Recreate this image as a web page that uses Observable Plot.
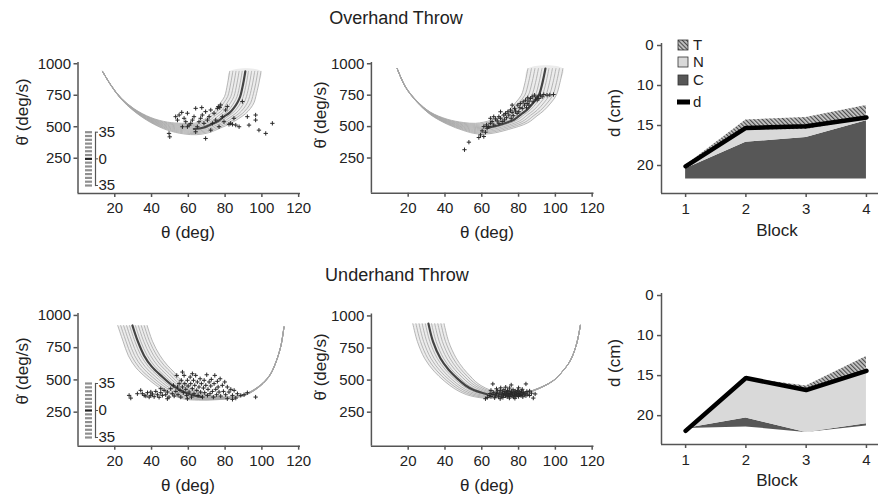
<!DOCTYPE html>
<html><head><meta charset="utf-8">
<script src="https://cdn.jsdelivr.net/npm/d3@7"></script>
<script src="https://cdn.jsdelivr.net/npm/@observablehq/plot@0.6"></script>
<style>
body{margin:0;background:#fff;font-family:"Liberation Sans",Arial,sans-serif;}
#root{position:relative;width:878px;height:495px;overflow:hidden;background:#fff;}
.t{position:absolute;color:#222;white-space:nowrap;line-height:1;transform:translate(-50%,-50%);}
.r{transform:translate(-50%,-50%) rotate(-90deg);}
</style></head><body>
<svg width="0" height="0" style="position:absolute"><defs>
<pattern id="hatch" patternUnits="userSpaceOnUse" width="3" height="3" patternTransform="rotate(-45)">
<rect width="3" height="3" fill="#c8c8c8"/><line x1="0.6" y1="0" x2="0.6" y2="3" stroke="#444" stroke-width="1.1"/></pattern>
</defs></svg>
<div id="root"></div>
<script>
// ---------- data ----------
const fanOffsets = [-1,-0.8,-0.6,-0.4,-0.2,0,0.2,0.4,0.6,0.8,1];
const thetaTicks = [20,40,60,80,100,120];
const velTicks = [250,500,750,1000];
const stripeLevels = [-35,-30,-25,-20,-15,-10,-5,0,5,10,15,20,25,30,35];
const stripeTicks = [-35,0,35];

// Overhand, panel 1
const TL_theta = [13.3,17.8,23.3,30.5,39.6,48.6,57,63,68,72.5,76.5,79.4,82.5,84.8,86.8,88.2,89.8,91];
const TL_vel   = [940,832,726,633,553,505,485,482,492,520,548,580,612,650,695,740,840,940];
const TL_spreadTheta = [0,0,0,0,0,0,0.5,1.5,3,5,6.5,8,8.5,9,9,8.5,8.5,8.5];
const TL_spreadVel   = [0,-2,-5,-10,-20,-32,-42,-45,-40,-30,-22,-15,-10,-5,-2,0,0,0];
const TL_points = [[53.1,580],[54.1,553],[55.0,593],[56.4,614],[57.7,567],[58.6,540],[59.5,607],[60.4,513],[61.3,527],[62.2,553],[63.1,580],[64.0,646],[64.9,500],[65.8,540],[66.7,567],[67.3,652],[67.6,593],[68.5,527],[69.4,620],[70.4,553],[71.3,580],[72.2,633],[73.1,527],[74.0,607],[74.9,553],[75.8,646],[76.3,660],[77.1,652],[77.6,673],[78.5,580],[79.4,540],[80.3,633],[81.2,660],[82.1,519],[83.0,527],[84.0,519],[84.8,567],[85.8,513],[87.6,500],[89.4,700],[92.1,580],[93.0,513],[96.6,593],[96.6,553],[98.4,473],[102.1,447],[105.7,527],[49.5,447],[49.9,420],[69.4,407],[76.7,500],[72.2,473],[59.5,500],[64.0,460],[56.8,500]];

// Overhand, panel 2
const TM_theta = [14,18.5,24.9,32.1,41.2,50.2,57,63,70,77.5,81.5,84.7,88,91,93,94.6];
const TM_vel   = [962,816,697,605,539,500,484,490,515,555,600,635,690,750,850,962];
const TM_spreadTheta = [0,0,0,0,0,0,0.5,2,4.5,7.5,8.5,9,9.5,9.5,9.5,9.5];
const TM_spreadVel   = [0,-2,-5,-10,-20,-32,-42,-45,-38,-25,-15,-8,-3,0,0,0];
const TM_points = [[50.6,316],[53.0,376],[58.4,413],[59.3,434],[61.1,421],[60.2,466],[62.0,455],[62.9,487],[62.6,513],[63.8,500],[64.7,526],[65.6,540],[66.5,513],[67.5,561],[68.4,545],[69.3,579],[70.2,566],[71.1,540],[72.0,592],[72.9,605],[73.4,571],[74.2,618],[74.7,592],[75.6,632],[76.5,613],[77.1,587],[77.8,645],[78.3,624],[79.2,605],[79.6,671],[80.7,650],[81.0,684],[82.0,645],[82.5,697],[83.2,671],[83.8,710],[84.7,684],[85.0,729],[85.7,703],[86.5,724],[87.4,737],[87.9,697],[88.6,750],[89.2,718],[90.1,737],[91.0,724],[91.9,750],[92.8,737],[93.7,755],[95.5,750],[97,752],[99,755],[69.3,526],[72.3,553],[76.0,566],[80.1,618],[84.3,650],[64.7,566],[61.1,500],[66.5,579],[70.2,618],[85.6,671],[90.1,711],[76.5,671]];

// Underhand, panel 1
const BL_theta = [29.6,32.5,35.9,40,45,52,59.5,67,75.5,84.8,92.1,99.3,104,106.6,110.2,112];
const BL_vel   = [922,800,690,605,535,450,395,368,358,366,393,458,530,600,755,910];
const BL_spreadTheta = [-8,-8,-8.5,-8.5,-7.5,-5,-3,-1.5,-0.5,0,0,0,0,0,0,0];
const BL_spreadVel   = [0,0,-3,-10,-22,-35,-40,-25,-12,-6,-5,-4,-3,-2,-1,0];
const BL_points = [[27.8,380],[28.7,359],[34.1,419],[35.0,393],[36.0,380],[36.9,375],[37.8,401],[38.7,367],[39.6,380],[40.5,391],[41.4,370],[42.3,411],[43.2,385],[44.1,365],[45.0,401],[45.9,380],[46.8,419],[47.7,385],[48.6,406],[49.5,367],[50.4,432],[51.3,393],[51.9,458],[52.3,375],[53.2,411],[53.7,535],[54.1,445],[54.4,385],[55.0,471],[55.5,419],[55.9,367],[56.2,497],[56.8,445],[57.3,401],[57.7,535],[58.1,471],[58.6,427],[59.1,380],[59.5,497],[59.9,453],[60.4,406],[61.0,522],[61.3,471],[61.7,367],[62.2,432],[62.8,497],[63.1,393],[63.5,458],[64.0,535],[64.6,419],[64.9,484],[65.3,380],[65.8,445],[66.4,509],[66.7,406],[67.1,471],[67.7,367],[68.2,437],[68.6,497],[68.9,401],[69.5,458],[70.0,540],[70.4,380],[70.7,427],[71.3,484],[71.8,393],[72.2,453],[72.5,504],[73.1,411],[73.6,367],[74.0,471],[74.4,535],[74.9,427],[75.4,385],[75.8,489],[76.2,445],[76.7,406],[77.3,509],[77.6,375],[78.5,458],[79.1,411],[79.8,484],[80.3,385],[81.2,445],[82.1,406],[83.1,427],[84.0,380],[84.9,419],[85.8,359],[86.7,393],[88.5,380],[90.3,385],[92.1,401],[96.6,367],[84.0,349],[81.2,354],[59.5,354],[48.6,354],[39.6,406],[32.3,393],[45.0,432],[56.8,561],[62.2,548]];

// Underhand, panel 2
const BM_theta = [31,33.5,37.5,42,46.6,51,55.6,62.9,70,77,83,88.3,94,99.1,104,108.2,111.5,113.6];
const BM_vel   = [940,800,670,580,513,460,422,390,380,382,395,420,455,498,570,654,780,927];
const BM_spreadTheta = [-8.5,-8.5,-8.5,-8,-7,-5.5,-4,-2,-0.5,0,0,0,0,0,0,0,0,0];
const BM_spreadVel   = [0,0,-3,-10,-20,-30,-35,-30,-15,-8,-5,-3,-2,-1,0,0,0,0];
const BM_points = [[63,365],[64,380],[64.5,395],[65,372],[66,388],[66.5,405],[67,362],[67.5,378],[68,395],[68.5,415],[69,370],[69.3,385],[69.8,400],[70,420],[70.3,440],[70.6,375],[71,392],[71.2,408],[71.5,365],[71.8,385],[72,425],[72.3,398],[72.6,412],[72.9,378],[73.2,390],[73.5,405],[73.8,370],[74,420],[74.2,395],[74.5,382],[74.8,410],[75,438],[75.2,372],[75.5,398],[75.8,388],[76,415],[76.2,403],[76.5,378],[76.8,392],[77,425],[77.2,368],[77.5,408],[77.8,385],[78,398],[78.2,415],[78.5,375],[78.8,392],[79,405],[79.2,382],[79.5,420],[79.8,395],[80,372],[80.3,410],[80.6,388],[81,400],[81.3,380],[81.6,415],[82,392],[82.3,370],[82.6,405],[83,385],[83.5,398],[84,378],[84.5,412],[85,390],[86,380],[87,398],[89,392],[66,470],[76,462],[84,470],[62,355],[88,360],[70,355],[78,358],[73,445],[80,440],[68,432],[82,428],[75,360],[65,420],[86,415]];

// Block panels
const blocks = [1,2,3,4];
const blockTicks = [1,2,3,4];
const dTicks = [5,10,15,20];           // top tick is the broken-axis "0"
const OH_base = [21.7,21.7,21.7,21.7];
const OH_C    = [20.4,17.1,16.5,14.4];
const OH_N    = [20.2,15.6,15.5,14.2];
const OH_d    = [20.1,15.3,15.1,14.0];
const OH_T    = [20.0,14.3,14.0,12.5];
const UH_base = [21.6,21.4,22.1,21.3];
const UH_C    = [21.6,20.3,22.1,21.0];
const UH_N    = [21.8,15.5,16.8,14.6];
const UH_d    = [21.9,15.3,16.8,14.4];
const UH_T    = [21.9,15.3,16.3,12.6];
const legendItems = ["T","N","C","d"];

// ---------- drawing ----------
const root = document.getElementById("root");
const FONT = '"Liberation Sans", Arial, sans-serif';
const AX = "#555";
const fmt = d => String(d);
function place(el, left, top){ el.style.position="absolute"; el.style.left=left+"px"; el.style.top=top+"px"; root.appendChild(el); }
function text(str, x, y, size, rot){ const d=document.createElement("div"); d.className="t"+(rot?" r":""); d.textContent=str; d.style.left=x+"px"; d.style.top=y+"px"; d.style.fontSize=size+"px"; root.appendChild(d); }

function scatterPanel(o){
  const fam = fanOffsets.flatMap((f,k)=>o.theta.map((t,i)=>({k, x:t+o.sT[i]*f, y:o.vel[i]+o.sV[i]*f})));
  const outer = o.theta.map((t,i)=>({x:t+o.sT[i], y:o.vel[i]+o.sV[i]}));
  const inner = o.theta.map((t,i)=>({x:t-o.sT[i], y:o.vel[i]-o.sV[i]})).reverse();
  const band = outer.concat(inner);
  const center = o.theta.map((t,i)=>({x:t,y:o.vel[i]}));
  const big = i => Math.abs(o.sT[i]||0)>2;
  const dark = center.filter((d,i)=>big(i)||big(i-1)||big(i+1));
  const p = Plot.plot({
    width:o.w, height:o.h, marginLeft:o.mL, marginRight:o.mR, marginTop:o.mT, marginBottom:o.mB,
    x:{domain:[0,121], axis:null}, y:{domain:o.yDom, axis:null},
    style:{fontFamily:FONT, fontSize:"15px", color:"#222", background:"none", overflow:"visible"},
    marks:[
      Plot.line(band,{x:"x",y:"y",fill:"#ececec",stroke:"none",curve:"catmull-rom"}),
      Plot.line(fam,{x:"x",y:"y",z:"k",stroke:"#a6a6a6",strokeWidth:0.8,curve:"catmull-rom"}),
      Plot.line(dark,{x:"x",y:"y",stroke:"#444",strokeWidth:2.2,curve:"catmull-rom"}),
      Plot.dot(o.pts,{x:d=>d[0],y:d=>d[1],symbol:"plus",r:1.5,stroke:"#2a2a2a",strokeWidth:1}),
      Plot.ruleX([0],{y1:o.yDom[0],y2:o.yDom[1],stroke:AX,strokeWidth:1.5}),
      Plot.ruleY([o.yDom[0]],{x1:0,x2:121,stroke:AX,strokeWidth:1.5}),
      Plot.axisX({ticks:thetaTicks, tickFormat:fmt, tickSize:4, tickPadding:5, fontSize:15, stroke:AX, strokeWidth:1.5, label:null}),
      Plot.axisY({ticks:velTicks, tickFormat:fmt, tickSize:4, tickPadding:3, fontSize:15, stroke:AX, strokeWidth:1.5, label:null})
    ]
  });
  place(p, o.left, o.top);
}

function stripPanel(left, top, mT, mB){
  const p = Plot.plot({
    width:45, height:66, marginLeft:5, marginRight:33, marginTop:mT, marginBottom:mB,
    x:{axis:null}, y:{domain:[-35,35], axis:null},
    style:{fontFamily:FONT, fontSize:"15px", color:"#222", background:"none", overflow:"visible"},
    marks:[
      Plot.tickY(stripeLevels,{y:d=>d, stroke:d=>d===0?"#222":"#8f8f8f", strokeWidth:2.2}),
      Plot.frame({anchor:"right", dx:3, stroke:AX, strokeWidth:1.2}),
      Plot.axisY({anchor:"right", ticks:stripeTicks, tickFormat:d=>String(Math.abs(d)), tickSize:2, tickPadding:1, dx:3, fontSize:15, stroke:AX, label:null})
    ]
  });
  place(p, left, top);
}

function blockPanel(o){
  const rows = blocks.map((b,i)=>({b, base:o.base[i], C:o.C[i], N:o.N[i], d:o.d[i], T:o.T[i]}));
  const p = Plot.plot({
    width:278, height:o.h, marginLeft:61, marginRight:0, marginTop:o.mT, marginBottom:o.mB,
    x:{domain:[0.6,4.2], axis:null}, y:{domain:o.yDom, reverse:true, axis:null},
    style:{fontFamily:FONT, fontSize:"15px", color:"#222", background:"none", overflow:"visible"},
    marks:[
      Plot.areaY(rows,{x:"b", y1:"base", y2:"C", fill:"#575757"}),
      Plot.areaY(rows,{x:"b", y1:"C", y2:"N", fill:"#d9d9d9"}),
      Plot.areaY(rows,{x:"b", y1:"N", y2:"T", fill:"url(#hatch)"}),
      Plot.line(rows,{x:"b", y:"d", stroke:"#000", strokeWidth:4.5, strokeLinejoin:"miter"}),
      Plot.ruleX([0.6],{y1:o.yDom[0],y2:o.yDom[1],stroke:AX,strokeWidth:1.5}),
      Plot.ruleY([o.yDom[1]],{x1:0.6,x2:4.2,stroke:AX,strokeWidth:1.5}),
      Plot.axisX({ticks:blockTicks, tickFormat:fmt, tickSize:4, tickPadding:6, fontSize:15, stroke:AX, strokeWidth:1.5, label:null}),
      Plot.axisY({ticks:dTicks, tickFormat:d=>d===5?"0":String(d), tickSize:4, tickPadding:4, fontSize:15, stroke:AX, strokeWidth:1.5, label:null})
    ]
  });
  place(p, 600, o.top);
}

// Overhand row
scatterPanel({left:0, top:40, w:310, h:210, mL:77.5, mR:10, mT:22, mB:57, yDom:[-30,1010],
  theta:TL_theta, vel:TL_vel, sT:TL_spreadTheta, sV:TL_spreadVel, pts:TL_points});
scatterPanel({left:300, top:40, w:300, h:210, mL:70.9, mR:6.5, mT:22, mB:57.3, yDom:[-30,1010],
  theta:TM_theta, vel:TM_vel, sT:TM_spreadTheta, sV:TM_spreadVel, pts:TM_points});
// Underhand row
scatterPanel({left:0, top:295, w:310, h:200, mL:77.5, mR:10, mT:18, mB:49.3, yDom:[-14,1015],
  theta:BL_theta, vel:BL_vel, sT:BL_spreadTheta, sV:BL_spreadVel, pts:BL_points});
scatterPanel({left:300, top:295, w:300, h:200, mL:70.9, mR:6.5, mT:18.5, mB:49.3, yDom:[-15,1015],
  theta:BM_theta, vel:BM_vel, sT:BM_spreadTheta, sV:BM_spreadVel, pts:BM_points});

stripPanel(80, 125, 6.7, 6);
stripPanel(80, 377, 6, 6);

blockPanel({top:30, h:220, mT:13, mB:57, yDom:[4.75,23.5], base:OH_base, C:OH_C, N:OH_N, d:OH_d, T:OH_T});
blockPanel({top:280, h:215, mT:13, mB:51, yDom:[4.75,23.6], base:UH_base, C:UH_C, N:UH_N, d:UH_d, T:UH_T});

// legend (top-right)
(function(){
  const ns="http://www.w3.org/2000/svg";
  const svg=document.createElementNS(ns,"svg"); svg.setAttribute("width","60"); svg.setAttribute("height","80");
  svg.style.overflow="visible";
  const fills={T:"url(#hatch)",N:"#d9d9d9",C:"#575757"};
  const ys={T:5,N:22,C:40,d:62};
  legendItems.forEach(k=>{
    let r=document.createElementNS(ns,"rect");
    if(k==="d"){ r.setAttribute("x","0"); r.setAttribute("y",ys[k]-2.5); r.setAttribute("width","13"); r.setAttribute("height","5"); r.setAttribute("fill","#000"); }
    else { r.setAttribute("x","1"); r.setAttribute("y",ys[k]-5); r.setAttribute("width","10"); r.setAttribute("height","10"); r.setAttribute("fill",fills[k]); r.setAttribute("stroke","#333"); r.setAttribute("stroke-width","0.8"); }
    svg.appendChild(r);
    let t=document.createElementNS(ns,"text"); t.setAttribute("x","16"); t.setAttribute("y",ys[k]); t.setAttribute("dy","0.36em");
    t.setAttribute("font-size","15"); t.setAttribute("font-family","Liberation Sans, Arial, sans-serif"); t.setAttribute("fill","#222"); t.textContent=k;
    svg.appendChild(t);
  });
  place(svg, 677, 40);
})();

// titles and axis labels
text("Overhand Throw", 396, 18, 18);
text("Underhand Throw", 397, 275, 18);
text("θ (deg)", 188, 232, 17); text("θ (deg)", 487, 232, 17);
text("θ (deg)", 188, 485, 17); text("θ (deg)", 487, 485, 17);
text("θ̇ (deg/s)", 22, 112, 17, true); text("θ̇ (deg/s)", 320, 115, 17, true);
text("θ̇ (deg/s)", 22, 371, 17, true); text("θ̇ (deg/s)", 320, 367, 17, true);
text("Block", 777, 230, 17); text("Block", 777, 480, 17);
text("d (cm)", 614, 113, 17, true); text("d (cm)", 614, 363, 17, true);
</script>
</body></html>
